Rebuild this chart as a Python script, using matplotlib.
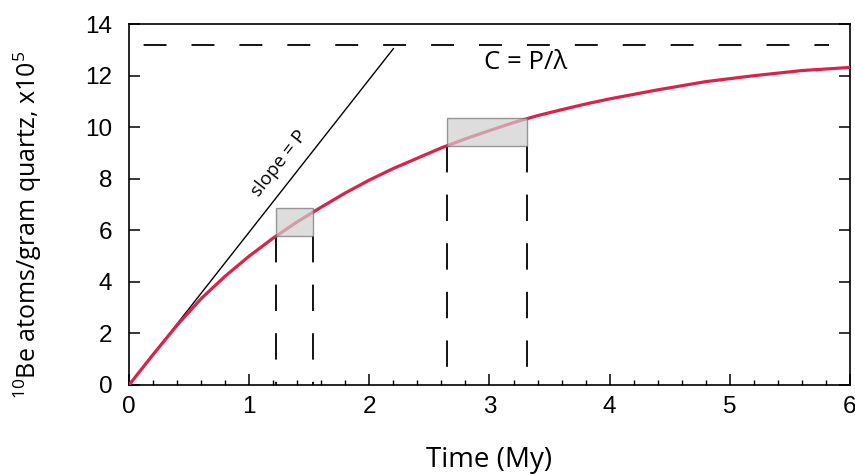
import matplotlib
matplotlib.use("Agg")
import matplotlib.pyplot as plt
from matplotlib.patches import Rectangle
from matplotlib.ticker import MultipleLocator

# concentration curve (x10^5 atoms/g)
time_my = [0, 0.2, 0.4, 0.6, 0.8, 1.0, 1.2, 1.4, 1.6, 1.8, 2.0, 2.2, 2.4,
           2.6, 2.8, 3.0, 3.2, 3.4, 3.6, 3.8, 4.0, 4.4, 4.8, 5.2, 5.6, 6.0]
conc = [0, 1.18, 2.32, 3.35, 4.22, 5.0, 5.7, 6.33, 6.9, 7.45, 7.95, 8.4,
        8.8, 9.2, 9.55, 9.87, 10.18, 10.45, 10.68, 10.9, 11.1, 11.45,
        11.77, 12.0, 12.2, 12.32]

saturation = 13.2            # C = P/lambda
slope_end = (2.2, 13.05)     # tangent line, slope = P

# shaded boxes: (t_start, t_end, c_low, c_high)
boxes = [(1.22, 1.53, 5.78, 6.86),
         (2.65, 3.31, 9.26, 10.35)]

plt.rcParams['font.family'] = ['Open Sans', 'DejaVu Sans']
plt.rcParams['mathtext.fontset'] = 'custom'
plt.rcParams['mathtext.rm'] = 'Open Sans'
plt.rcParams['mathtext.default'] = 'regular'
plt.rcParams['lines.scale_dashes'] = False

fig = plt.figure(figsize=(8.55, 4.74), dpi=100)
ax = fig.add_axes([0.151, 0.188, 0.843, 0.761])

ax.plot([0, 5.83], [saturation, saturation], color='black', lw=1.3,
        linestyle=(24, (16.5, 18)))
ax.plot([0, slope_end[0]], [0, slope_end[1]], color='black', lw=1.0)

ax.plot(time_my, conc, color='#db2349', lw=2.3, zorder=3)

for t0, t1, lo, hi in boxes:
    ax.add_patch(Rectangle((t0, lo), t1 - t0, hi - lo, facecolor='#cfcfcf',
                           edgecolor='#707070', lw=1.0, alpha=0.7, zorder=4))
    for t in (t0, t1):
        ax.plot([t, t], [lo, 0], color='black', lw=1.3,
                linestyle=(0, (19, 16)))

ax.text(1.25, 8.6, 'slope = P', rotation=52, fontsize=13.5,
        ha='center', va='center', rotation_mode='anchor')
ax.text(3.3, 12.5, 'C = P/λ', fontsize=18.5, ha='center', va='center')

ax.set_xlim(0, 6)
ax.set_ylim(0, 14)
ax.xaxis.set_major_locator(MultipleLocator(1))
ax.xaxis.set_minor_locator(MultipleLocator(0.2))
ax.yaxis.set_major_locator(MultipleLocator(2))
ax.tick_params(axis='x', which='major', direction='in', length=8, width=1.1,
               labelsize=17.5, pad=8, top=False)
ax.tick_params(axis='x', which='minor', direction='in', length=3.5, width=1.0,
               top=False)
ax.tick_params(axis='y', which='major', direction='in', length=8, width=1.1,
               labelsize=17.5, pad=12, right=True)
for lab in ax.get_xticklabels() + ax.get_yticklabels():
    lab.set_family(['Liberation Sans', 'DejaVu Sans'])
for s in ax.spines.values():
    s.set_linewidth(1.2)

ax.set_xlabel('Time (My)', fontsize=20, labelpad=20)
ax.set_ylabel('$^{10}$Be atoms/gram quartz, x10$^{5}$', fontsize=18)
ax.yaxis.set_label_coords(-0.118, 0.445)

fig.savefig('out.png', dpi=100)
